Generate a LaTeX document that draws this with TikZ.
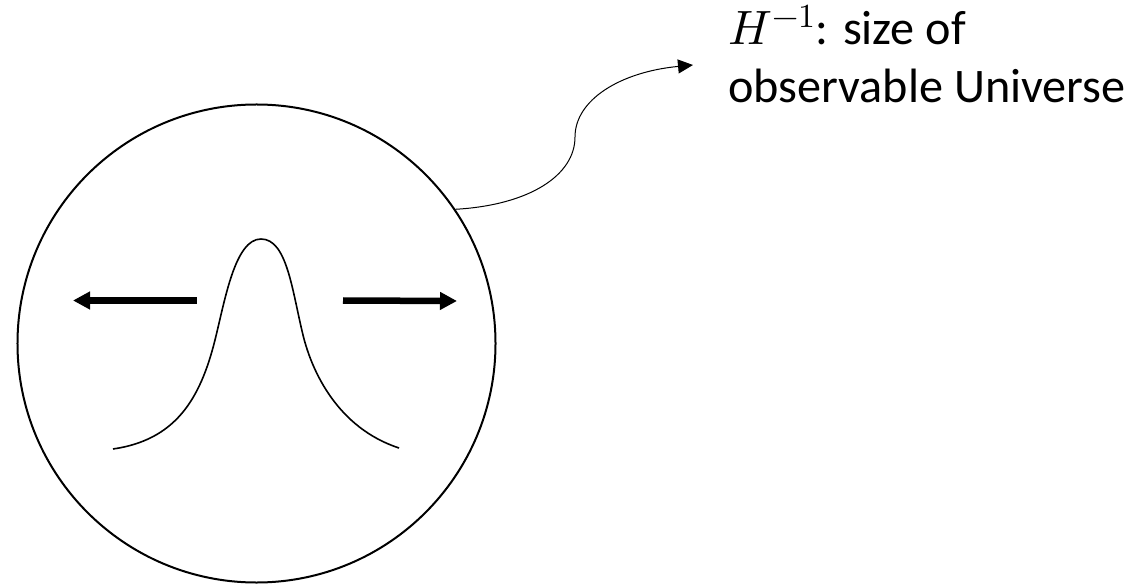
\documentclass[tikz,border=0pt]{standalone}
\usepackage{fontspec}
\usepackage{unicode-math}
\setmainfont{Carlito}
\setmathfont{Latin Modern Math}
\usetikzlibrary{arrows.meta}
\begin{document}
\begin{tikzpicture}[x=1bp,y=-1bp,
  labeltext/.style={anchor=base west, inner sep=0pt, font=\fontsize{48.2bp}{58bp}\selectfont},
  bigarrow/.style={line width=6.5bp, -{Triangle[length=17bp,width=17bp]}},
  pointer/.style={line width=1bp, -{Triangle[length=15bp,width=14bp]}}]
\useasboundingbox (0,0) rectangle (1133,585);
\node[circle, draw, line width=2bp, minimum size=478bp, inner sep=0pt] (universe) at (256.5,343.5) {};
% bell-shaped profile
\draw[line width=1.6bp] (113,449) .. controls (175,440) and (200,400) .. (215,340)
  .. controls (225,300) and (235,239) .. (261,239)
  .. controls (287,239) and (292,290) .. (303,335)
  .. controls (312,372) and (338,428) .. (399,448);
% expansion arrows
\coordinate (ltail) at (196.7,300.5);
\coordinate (lhead) at (73,300.5);
\coordinate (rtail) at (343,300.5);
\coordinate (rhead) at (457,301);
\draw[bigarrow] (ltail) -- (lhead);
\draw[bigarrow] (rtail) -- (rhead);
% label
\node[labeltext] (lab1) at (728,45) {$H^{-1}$: size of};
\node[labeltext] (lab2) at (728,103) {observable Universe};
\coordinate (tip) at (693,65);
\draw[pointer] (universe.34) .. controls (530,205) and (575,175) .. (575,137)
  .. controls (575,100) and (620,72) .. (tip);
\end{tikzpicture}
\end{document}
